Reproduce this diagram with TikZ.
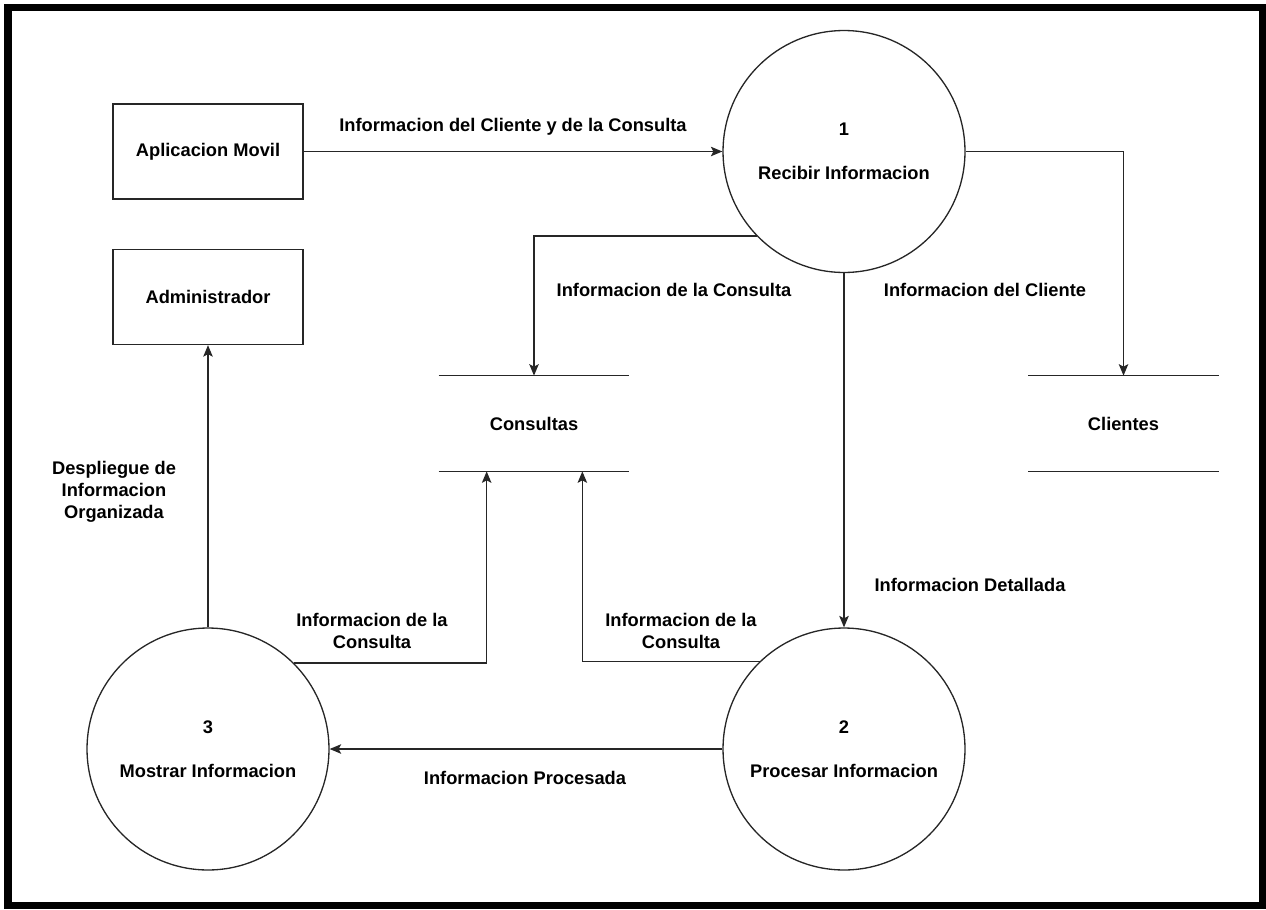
\documentclass[tikz,border=0pt]{standalone}
\usepackage{fontspec}
\setmainfont{Liberation Sans}
\usetikzlibrary{arrows.meta}
\begin{document}
\begin{tikzpicture}[x=0.02cm,y=-0.02cm,
  every node/.style={font=\fontsize{10.4pt}{12.5pt}\selectfont\bfseries},
  shp/.style={draw=black!85,line width=0.75pt},
  entity/.style={shp,minimum width=3.8cm,minimum height=1.9cm,inner sep=0pt},
  process/.style={shp,circle,minimum size=4.84cm,inner sep=0pt,align=center},
  store/.style={minimum width=3.8cm,minimum height=1.9cm,inner sep=0pt},
  flow/.style={draw=black!85,line width=0.75pt,-{Stealth[length=0.23cm,width=0.19cm,inset=0.05cm]}},
  lbl/.style={align=center,inner sep=1pt}]
\useasboundingbox (0,0) rectangle (1266,909);
% outer frame
\draw[line width=0.15cm] (8,7.5) rectangle (1262.5,905.5);

% external entities
\node[entity] (am) at (208,151.5) {Aplicacion Movil};
\node[entity] (adm) at (208,297) {Administrador};

% processes
\node[process] (p1) at (844,151.5) {1\\[12.5pt]Recibir Informacion};
\node[process] (p2) at (844,749) {2\\[12.5pt]Procesar Informacion};
\node[process] (p3) at (208,749) {3\\[12.5pt]Mostrar Informacion};

% data stores
\node[store] (cs) at (534,423.5) {Consultas};
\node[store] (cl) at (1123.5,423.5) {Clientes};
\draw[shp] (cs.north west) -- (cs.north east);
\draw[shp] (cs.south west) -- (cs.south east);
\draw[shp] (cl.north west) -- (cl.north east);
\draw[shp] (cl.south west) -- (cl.south east);

% data flows
\draw[flow] (am.east) -- (p1.west);
\draw[flow] (p1.east) -| (cl.north);
\draw[flow] (p1.224.4) -| (cs.north);
\draw[flow] (p1.south) -- (p2.north);
\draw[flow] (p2.west) -- (p3.east);
\draw[flow] (p3.north) -- (adm.south);
\draw[flow] (p3.45) -| ([xshift=0.96cm]cs.south west);
\draw[flow] (p2.134.7) -| ([xshift=-0.94cm]cs.south east);

% flow labels
\node[lbl] (l1) at (513,127) {Informacion del Cliente y de la Consulta};
\node[lbl] (l2) at (674,290) {Informacion de la Consulta};
\node[lbl] (l3) at (985,290) {Informacion del Cliente};
\node[lbl] (l4) at (970,585) {Informacion Detallada};
\node[lbl] (l5) at (372,630.5) {Informacion de la\\Consulta};
\node[lbl] (l6) at (681,630.5) {Informacion de la\\Consulta};
\node[lbl] (l7) at (525,778) {Informacion Procesada};
\node[lbl] (l8) at (114,492) {Despliegue de\\Informacion\\Organizada};
\end{tikzpicture}
\end{document}
